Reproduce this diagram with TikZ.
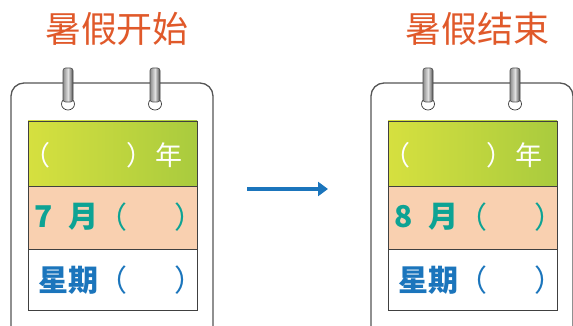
\documentclass[tikz,border=0pt]{standalone}
\usepackage{fontspec}
\newfontfamily\cjk{Noto Sans CJK SC}
\definecolor{titleC}{HTML}{E0592A}
\definecolor{greenA}{HTML}{D6E03F}
\definecolor{greenB}{HTML}{A9CB3E}
\definecolor{peach}{HTML}{F9D0B0}
\definecolor{teal}{HTML}{0DA394}
\definecolor{blueC}{HTML}{1B75BC}
\definecolor{frameC}{HTML}{555555}
\tikzset{
  framebox/.style={draw=frameC, line width=1.3pt, rounded corners=13pt, fill=white},
  rowbox/.style={draw=black!75, line width=0.9pt, minimum width=169pt, inner sep=0pt},
  titletxt/.style={font=\cjk\fontsize{36}{36}\selectfont, text=titleC, inner sep=0pt},
  yeartxt/.style={font=\cjk\fontsize{27}{27}\selectfont, text=white, inner sep=0pt},
  monthtxt/.style={font=\cjk\bfseries\fontsize{30}{30}\selectfont, text=teal, inner sep=0pt},
  parteal/.style={font=\cjk\fontsize{30}{30}\selectfont, text=teal, inner sep=0pt},
  weektxt/.style={font=\cjk\bfseries\fontsize{30}{30}\selectfont, text=blueC, inner sep=0pt},
  parblue/.style={font=\cjk\fontsize{30}{30}\selectfont, text=blueC, inner sep=0pt},
  ringloop/.style={draw=black!80, line width=0.7pt, fill=white},
  ringbar/.style={draw=black!70, line width=0.6pt, rounded corners=2.5pt, left color=black!45, right color=black!70, middle color=black!12},
  arrowline/.style={draw=blueC, line width=3.8pt, -{Triangle[length=10pt,width=14pt]}}
}
\usetikzlibrary{arrows.meta}
\begin{document}
\begin{tikzpicture}[x=1pt,y=-1pt]
\useasboundingbox (0,0) rectangle (573,326);
\foreach \dx/\m/\t/\s in {0/7/暑假开始/L, 360/8/暑假结束/R}{
  \begin{scope}[xshift=\dx pt]
    \node[titletxt] (title\s) at (117,29) {\t};
    \draw[framebox] (11,83) rectangle (213,340);
    \node[rowbox, minimum height=65pt, left color=greenA, right color=greenB] (year\s) at (112.5,153.5) {};
    \node[rowbox, minimum height=63pt, fill=peach] (month\s) at (112.5,217.5) {};
    \node[rowbox, minimum height=61pt, fill=white] (week\s) at (112.5,279.5) {};
    \node[yeartxt] (yo\s) at (37,155) {（};
    \node[yeartxt] (yc\s) at (140,155) {）};
    \node[yeartxt] (yn\s) at (169,155) {年};
    \node[monthtxt] (mn\s) at (44,217) {\m};
    \node[monthtxt] (my\s) at (83,217) {月};
    \node[parteal] (mo\s) at (112,217) {（};
    \node[parteal] (mc\s) at (189,217) {）};
    \node[weektxt] (wk\s) at (68,280) {星期};
    \node[parblue] (wo\s) at (112,280) {（};
    \node[parblue] (wc\s) at (189,280) {）};
    \foreach \rx/\k in {68/a,155/b}{
      \draw[ringloop] (\rx,104) ellipse (6.5pt and 6pt);
      \draw[ringbar] (\rx-5,68) rectangle (\rx+5,102);
    }
  \end{scope}
}
\coordinate (arrS) at (247,189);
\coordinate (arrE) at (328,189);
\draw[arrowline] (arrS) -- (arrE);
\end{tikzpicture}
\end{document}
